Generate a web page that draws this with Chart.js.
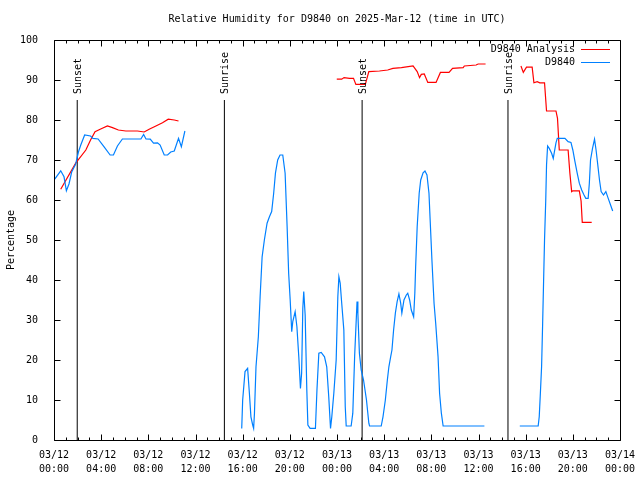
<!DOCTYPE html>
<html>
<head>
<meta charset="utf-8">
<script src="https://cdn.jsdelivr.net/npm/chart.js@4.4.1/dist/chart.umd.min.js"></script>
<style>
  html,body{margin:0;padding:0;background:#fff;}
  #wrap{width:640px;height:480px;}
</style>
</head>
<body>
<div id="wrap"><canvas id="c" width="640" height="480"></canvas></div>
<script>
// hours since 03/12 00:00 UTC ; null breaks the line
const obsHours = [0.06,0.57,0.85,1.05,1.27,1.5,1.84,2.07,2.27,2.6,3.1,3.3,3.74,4.25,4.76,5.04,5.38,5.8,6.65,7.37,7.6,7.8,8.16,8.44,8.78,9.0,9.35,9.63,9.9,10.2,10.56,10.8,11.1,
  11.5,
  15.92,16.0,16.2,16.42,16.57,16.7,16.85,16.93,17.0,17.13,17.33,17.48,17.65,17.84,18.07,18.27,18.46,18.63,18.78,18.97,19.17,19.4,19.6,19.77,19.9,20.03,20.16,20.25,20.45,20.6,20.76,20.9,21.0,21.1,21.18,21.3,21.44,21.53,21.72,22.17,22.3,22.46,22.66,22.94,23.13,23.3,23.45,23.56,23.73,23.93,24.07,24.16,24.27,24.4,24.58,24.7,24.78,25.2,25.34,25.5,25.7,25.77,25.9,26.05,26.25,26.5,26.7,26.76,
  27.75,27.9,28.1,28.27,28.4,28.55,28.66,28.8,28.95,29.1,29.25,29.4,29.5,29.68,29.88,30.0,30.16,30.3,30.5,30.6,30.67,30.8,30.97,31.1,31.3,31.46,31.63,31.8,31.9,32.05,32.23,32.37,32.57,32.7,32.85,33.0,36.5,
  37.0,
  39.5,41.06,41.15,41.24,41.35,41.44,41.52,41.6,41.7,41.77,41.86,42.0,42.2,42.34,42.42,42.57,42.68,43.33,43.6,43.84,44.0,44.18,44.37,44.55,44.75,44.95,45.1,45.3,45.4,45.5,45.67,45.84,45.97,46.1,46.26,46.4,46.6,46.8,47.0,47.2,47.38];
const obsValues = [65.2,67.3,65.8,62.3,64,67,69,72,73.75,76.25,76,75.4,75.25,73.3,71.25,71.25,73.5,75.25,75.25,75.25,76.4,75.25,75.2,74.2,74.3,73.75,71.25,71.25,72,72.25,75.4,73.3,77.25,
  null,
  2.9,10,17.1,17.9,11.7,5.8,3.75,2.9,6.7,18.3,25.8,35.8,45.8,50,54.2,55.8,57.1,61.7,66.7,70,71.25,71.25,66.7,53.3,41.7,35,27.1,29.6,32.1,28.3,20.8,12.9,16.7,32.9,37.1,31.25,12.5,3.75,2.9,2.9,12.5,21.7,21.9,20.8,18.3,10.8,2.9,5.8,11.7,20,35.8,40.8,39.2,34.2,27.5,8.3,3.5,3.5,6.7,21.25,34.6,31.7,21.7,17.5,15,10,4.2,3.5,
  3.5,5.8,10,15,18.3,20.8,22.5,27.5,31.7,34.6,36.5,34.2,31.7,35,36.25,36.7,35,32.5,30.8,36.7,43.3,53.3,61.7,65,66.8,67.25,66.25,61.7,55,45,34.2,29.2,20.8,11.7,6.7,3.5,3.5,
  null,
  3.5,3.5,5.8,11.25,18.3,29.2,39.6,50,59.6,68.75,73.5,72.9,71.7,70.4,71.8,74.3,75.4,75.4,74.6,74.4,72.5,69.6,66.7,64.2,62.5,61.25,60.4,60.4,64.2,70,72.9,75.2,72.5,69.2,65,62.1,61.25,62.1,60.4,58.75,57.25];

const anaHours = [0.57,1.84,2.7,3.1,3.48,3.96,4.53,4.96,5.46,6.09,7.08,7.65,8.07,8.64,9.2,9.69,10.2,10.56,
  12,
  23.98,24.4,24.6,25.06,25.4,25.6,26.4,26.7,27.6,28.3,28.74,29.46,30.45,30.8,31.0,31.15,31.4,31.7,32.4,32.77,33.5,33.8,34.7,34.8,35.8,35.97,36.6,
  38,
  39.6,39.8,40.07,40.55,40.7,40.98,41.2,41.6,41.77,42.57,42.7,42.85,43.6,43.75,43.9,44.0,44.55,44.7,44.8,45.6];
const anaValues = [62.7,69.2,72.5,75,77.1,77.75,78.5,78.1,77.5,77.25,77.25,77,77.7,78.5,79.3,80.2,80,79.75,
  null,
  90.2,90.2,90.6,90.4,90.4,88.9,88.9,92.1,92.25,92.5,92.9,93.1,93.5,92.1,90.6,91.4,91.5,89.4,89.4,91.9,91.9,92.9,93.1,93.5,93.75,94,94,
  null,
  93.5,91.9,93.2,93.2,89.3,89.6,89.3,89.3,82.25,82.25,80.4,72.5,72.5,66.7,62.1,62.3,62.3,59.75,54.4,54.4];

const sunHours = [1.97,14.45,26.13,38.5];
const sunNames = ['Sunset','Sunrise','Sunset','Sunrise'];
const sunTop = 85;

const tickDates = ['03/12','03/12','03/12','03/12','03/12','03/12','03/13','03/13','03/13','03/13','03/13','03/13','03/14'];
const tickTimes = ['00:00','04:00','08:00','12:00','16:00','20:00','00:00','04:00','08:00','12:00','16:00','20:00','00:00'];

const titleText = 'Relative Humidity for D9840 on 2025-Mar-12 (time in UTC)';
const yTitle = 'Percentage';
const seriesNames = ['D9840 Analysis','D9840'];
const RED = '#ff0000', BLUE = '#0080ff';
const FONT = '10px "DejaVu Sans Mono", monospace';

function pts(xs, ys){ return xs.map((x,i)=>({x:x, y:ys[i]})); }
function sunPts(){
  const out = [];
  sunHours.forEach(h=>{ out.push({x:h,y:0},{x:h,y:sunTop},{x:h+0.01,y:null}); });
  return out;
}

const decor = {
  id:'decor',
  afterDatasetsDraw(chart){
    const ctx = chart.ctx, a = chart.chartArea;
    const xs = chart.scales.x, ys = chart.scales.y;
    const L = Math.round(a.left)+0.5, R = Math.round(a.right)+0.5;
    const T = Math.round(a.top)+0.5, B = Math.round(a.bottom)+0.5;
    ctx.save();
    ctx.strokeStyle = '#000'; ctx.lineWidth = 1;
    ctx.beginPath();
    ctx.rect(L, T, R-L, B-T);
    // inner ticks, x hourly
    for(let h=0; h<=48; h++){
      const px = Math.round(xs.getPixelForValue(h))+0.5;
      const len = h%4===0 ? 6 : 3;
      ctx.moveTo(px, B); ctx.lineTo(px, B-len);
      ctx.moveTo(px, T); ctx.lineTo(px, T+len);
    }
    for(let v=0; v<=100; v+=10){
      const py = Math.round(ys.getPixelForValue(v))+0.5;
      ctx.moveTo(L, py); ctx.lineTo(L+6, py);
      ctx.moveTo(R, py); ctx.lineTo(R-6, py);
    }
    ctx.stroke();

    ctx.fillStyle = '#000';
    ctx.font = FONT;
    // sunrise/sunset labels
    sunHours.forEach((h,i)=>{
      const px = xs.getPixelForValue(h);
      ctx.save();
      ctx.translate(px+1, ys.getPixelForValue(sunTop)-6);
      ctx.rotate(-Math.PI/2);
      ctx.textAlign = 'left'; ctx.textBaseline = 'middle';
      ctx.fillText(sunNames[i], 0, 0);
      ctx.restore();
    });

    // title
    ctx.textAlign = 'center'; ctx.textBaseline = 'middle';
    ctx.fillText(titleText, (a.left+a.right)/2, 19);

    // y title
    ctx.save();
    ctx.translate(11, (a.top+a.bottom)/2);
    ctx.rotate(-Math.PI/2);
    ctx.fillText(yTitle, 0, 0);
    ctx.restore();

    // legend
    const cols = [RED, BLUE];
    seriesNames.forEach((n,i)=>{
      const y = 49 + i*13;
      ctx.textAlign = 'right';
      ctx.fillStyle = '#000';
      ctx.fillText(n, 575, y);
      ctx.strokeStyle = cols[i];
      ctx.beginPath();
      ctx.moveTo(581, y+0.5); ctx.lineTo(610, y+0.5);
      ctx.stroke();
    });
    ctx.restore();
  }
};

new Chart(document.getElementById('c'), {
  type:'line',
  data:{datasets:[
    {label:seriesNames[1], data:pts(obsHours, obsValues), borderColor:BLUE, borderWidth:1.2, pointRadius:0, spanGaps:false, tension:0, order:0},
    {label:seriesNames[0], data:pts(anaHours, anaValues), borderColor:RED, borderWidth:1.2, pointRadius:0, spanGaps:false, tension:0, order:1},
    {label:'sun', data:sunPts(), borderColor:'#000', borderWidth:1, pointRadius:0, spanGaps:false, tension:0, order:2}
  ]},
  options:{
    responsive:false, animation:false, devicePixelRatio:1,
    layout:{padding:{top:40, right:20, left:0, bottom:0}},
    plugins:{legend:{display:false}, tooltip:{enabled:false}, title:{display:false}},
    scales:{
      x:{type:'linear', min:0, max:48,
        grid:{display:false}, border:{display:false},
        afterFit(s){ s.height = 40; },
        ticks:{stepSize:4, autoSkip:false, maxRotation:0, padding:0, color:'#000',
          font:{family:'"DejaVu Sans Mono", monospace', size:10, lineHeight:1.4},
          callback(v){ const i = Math.round(v/4); return [tickDates[i], tickTimes[i]]; }}
      },
      y:{min:0, max:100,
        grid:{display:false}, border:{display:false},
        afterFit(s){ s.width = 54; },
        ticks:{stepSize:10, padding:8, color:'#000',
          font:{family:'"DejaVu Sans Mono", monospace', size:10}}
      }
    }
  },
  plugins:[decor]
});
</script>
</body>
</html>
